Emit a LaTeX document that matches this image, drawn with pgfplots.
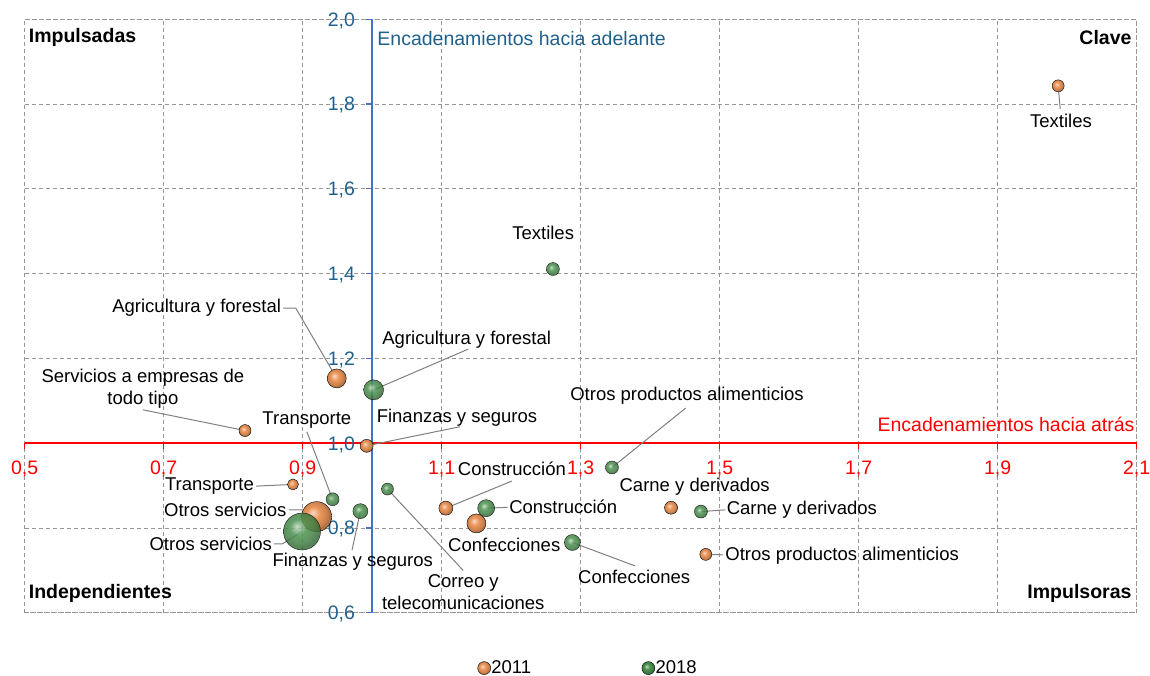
\documentclass[border=0pt]{standalone}
\usepackage{fontspec}
\setmainfont{Liberation Sans}
\usepackage{pgfplots}
\usepackage{pgfplotstable}
\pgfplotsset{compat=1.18}

\definecolor{c11}{RGB}{236,150,90}
\definecolor{c18}{RGB}{75,145,78}
\definecolor{ejeazul}{RGB}{68,114,196}
\definecolor{txtazul}{RGB}{31,97,141}
\definecolor{guia}{RGB}{128,128,128}
\definecolor{rejilla}{RGB}{150,150,150}

% sombreado de bola mas suave que el de TikZ
\makeatletter
\pgfdeclareradialshading[tikz@ball]{ball}{\pgfqpoint{-7bp}{7bp}}{%
  color(0bp)=(tikz@ball!35!white); color(11bp)=(tikz@ball);
  color(20bp)=(tikz@ball!88!black); color(25bp)=(tikz@ball!75!black);
  color(50bp)=(tikz@ball!75!black)}
\makeatother

\newcommand\lf{\fontsize{18.5}{22}\selectfont}
\newcommand\tf{\fontsize{19.5}{22}\selectfont}

% 2011: x = encadenamientos hacia atras, y = hacia adelante, r = radio de burbuja
\pgfplotstableread{
x y r
1.987 1.843 6
0.949 1.153 9.5
0.817 1.030 6
0.992 0.994 6.5
0.886 0.903 5.5
0.920 0.827 15
1.106 0.847 7
1.150 0.811 9.5
1.430 0.848 6.5
1.480 0.738 6
}\datosA
% 2018
\pgfplotstableread{
x y r
1.260 1.411 6.5
1.002 1.126 10
1.345 0.943 6.5
0.943 0.868 6.5
1.022 0.892 6
0.983 0.840 7.5
1.164 0.847 8.5
1.473 0.839 6.5
1.288 0.766 8
0.899 0.792 18.5
}\datosB

\begin{document}
\begin{tikzpicture}
\path[use as bounding box] (-24.7pt,-63.1pt) rectangle (1125.3pt,612.9pt);
\begin{axis}[
  scale only axis, width=1112pt, height=593.6pt,
  xmin=0.5, xmax=2.1, ymin=0.6, ymax=2.0,
  xtick={0.5,0.7,0.9,1.1,1.3,1.5,1.7,1.9,2.1},
  ytick={0.6,0.8,1.0,1.2,1.4,1.6,1.8,2.0},
  xticklabels={}, yticklabels={},
  major tick length=0pt,
  grid=major,
  grid style={rejilla, line width=0.8pt, dash pattern=on 4pt off 3pt},
  axis line style={rejilla, line width=0.8pt, dash pattern=on 4pt off 3pt},
  clip=false,
  legend style={at={(0.506,-0.093)}, anchor=center, draw=none, fill=none,
    font=\lf, legend columns=2, nodes={inner xsep=0.5pt},
    /tikz/every even column/.append style={column sep=110pt}},
  legend image code/.code={\draw[#1] plot coordinates {(0pt,0pt)};},
]
% ejes que se cruzan en (1,1)
\draw[red, line width=1.8pt] (axis cs:0.5,1) -- (axis cs:2.1,1);
\draw[ejeazul, line width=1.5pt] (axis cs:1,0.6) -- (axis cs:1,2.0);
\pgfplotsinvokeforeach{0.5,0.7,0.9,1.1,1.3,1.5,1.7,1.9,2.1}{
  \draw[red, line width=1.2pt] (axis cs:#1,1) -- ++(0pt,-6pt);
  \node[red, font=\tf, text depth=0pt, inner sep=0pt, yshift=-24pt] at (axis cs:#1,1)
    {\pgfmathprintnumber[fixed,fixed zerofill,precision=1,use comma,assume math mode=true]{#1}};
}
\pgfplotsinvokeforeach{0.6,0.8,1.0,1.2,1.4,1.6,1.8,2.0}{
  \draw[ejeazul, line width=1.2pt] (axis cs:1,#1) -- ++(-6pt,0pt);
  \node[txtazul, font=\tf, text depth=0pt, inner sep=0pt, anchor=east, xshift=-17pt] at (axis cs:1,#1)
    {\pgfmathprintnumber[fixed,fixed zerofill,precision=1,use comma,assume math mode=true]{#1}};
}

% lineas guia
\begin{scope}[guia, line width=1pt]
\draw (axis cs:1.987,1.843) -- (axis cs:1.990,1.788);
\draw (axis cs:0.872,1.319) -- (axis cs:0.890,1.319) -- (axis cs:0.949,1.153);
\draw (axis cs:1.002,1.126) -- (axis cs:1.138,1.222);
\draw (axis cs:0.670,1.079) -- (axis cs:0.817,1.030);
\draw (axis cs:0.992,0.994) -- (axis cs:1.126,1.039);
\draw (axis cs:0.906,1.027) -- (axis cs:0.943,0.868);
\draw (axis cs:0.833,0.899) -- (axis cs:0.886,0.903);
\draw (axis cs:0.880,0.843) -- (axis cs:0.901,0.843) -- (axis cs:0.920,0.827);
\draw (axis cs:0.859,0.763) -- (axis cs:0.871,0.763) -- (axis cs:0.899,0.792);
\draw (axis cs:0.971,0.748) -- (axis cs:0.983,0.840);
\draw (axis cs:1.022,0.892) -- (axis cs:1.131,0.700);
\draw (axis cs:1.106,0.847) -- (axis cs:1.201,0.911);
\draw (axis cs:1.164,0.847) -- (axis cs:1.195,0.849);
\draw (axis cs:1.288,0.766) -- (axis cs:1.378,0.711);
\draw (axis cs:1.345,0.943) -- (axis cs:1.451,1.083);
\draw (axis cs:1.473,0.839) -- (axis cs:1.508,0.843);
\draw (axis cs:1.480,0.738) -- (axis cs:1.505,0.737);
\end{scope}

\addplot[forget plot, only marks, scatter, mark=ball,
  scatter/use mapped color={ball color=c11, draw=none},
  visualization depends on={\thisrow{r}\as\rr},
  scatter/@pre marker code/.append style={/tikz/mark size=\rr pt}]
  table[x=x, y=y]{\datosA};
\addplot[forget plot, only marks, scatter, mark=ball,
  scatter/use mapped color={ball color=c18, draw=none, opacity=0.85},
  visualization depends on={\thisrow{r}\as\rr},
  scatter/@pre marker code/.append style={/tikz/mark size=\rr pt}]
  table[x=x, y=y]{\datosB};

\addlegendimage{only marks, mark=ball, mark size=6.5pt, mark options={ball color=c11, draw=none}}
\addlegendentry{2011}
\addlegendimage{only marks, mark=ball, mark size=6.5pt, mark options={ball color=c18, draw=none}}
\addlegendentry{2018}

% etiquetas
\begin{scope}[font=\lf, inner sep=0pt]
\node at (axis cs:1.991,1.760) {Textiles};
\node at (axis cs:1.246,1.496) {Textiles};
\node[anchor=east] at (axis cs:0.869,1.319) {Agricultura y forestal};
\node at (axis cs:1.136,1.244) {Agricultura y forestal};
\node[align=center] at (axis cs:0.670,1.128) {Servicios a empresas de\\todo tipo};
\node at (axis cs:1.122,1.060) {Finanzas y seguros};
\node at (axis cs:0.906,1.055) {Transporte};
\node[anchor=east] at (axis cs:0.830,0.899) {Transporte};
\node[anchor=east] at (axis cs:0.877,0.843) {Otros servicios};
\node[anchor=east] at (axis cs:0.856,0.763) {Otros servicios};
\node at (axis cs:0.972,0.720) {Finanzas y seguros};
\node[align=center] at (axis cs:1.131,0.649) {Correo y\\telecomunicaciones};
\node at (axis cs:1.201,0.939) {Construcción};
\node[anchor=west] at (axis cs:1.197,0.850) {Construcción};
\node at (axis cs:1.190,0.761) {Confecciones};
\node at (axis cs:1.377,0.684) {Confecciones};
\node at (axis cs:1.453,1.112) {Otros productos alimenticios};
\node at (axis cs:1.464,0.897) {Carne y derivados};
\node[anchor=west] at (axis cs:1.510,0.843) {Carne y derivados};
\node[anchor=west] at (axis cs:1.508,0.736) {Otros productos alimenticios};
\end{scope}

% cuadrantes y titulos de ejes
\begin{scope}[font=\tf\bfseries, inner sep=0pt]
\node[anchor=west] at ([xshift=4pt,yshift=-18pt]rel axis cs:0,1) {Impulsadas};
\node[anchor=east] at ([xshift=-5pt,yshift=-18pt]rel axis cs:1,1) {Clave};
\node[anchor=west] at ([xshift=4pt,yshift=19pt]rel axis cs:0,0) {Independientes};
\node[anchor=east] at ([xshift=-5pt,yshift=19pt]rel axis cs:1,0) {Impulsoras};
\end{scope}
\node[txtazul, font=\tf, anchor=west, inner sep=0pt] at ([xshift=5pt,yshift=-19pt]axis cs:1,2) {Encadenamientos hacia adelante};
\node[red, font=\tf, anchor=east, inner sep=0pt] at ([xshift=-2pt,yshift=19pt]axis cs:2.1,1) {Encadenamientos hacia atrás};
\end{axis}
\end{tikzpicture}
\end{document}
